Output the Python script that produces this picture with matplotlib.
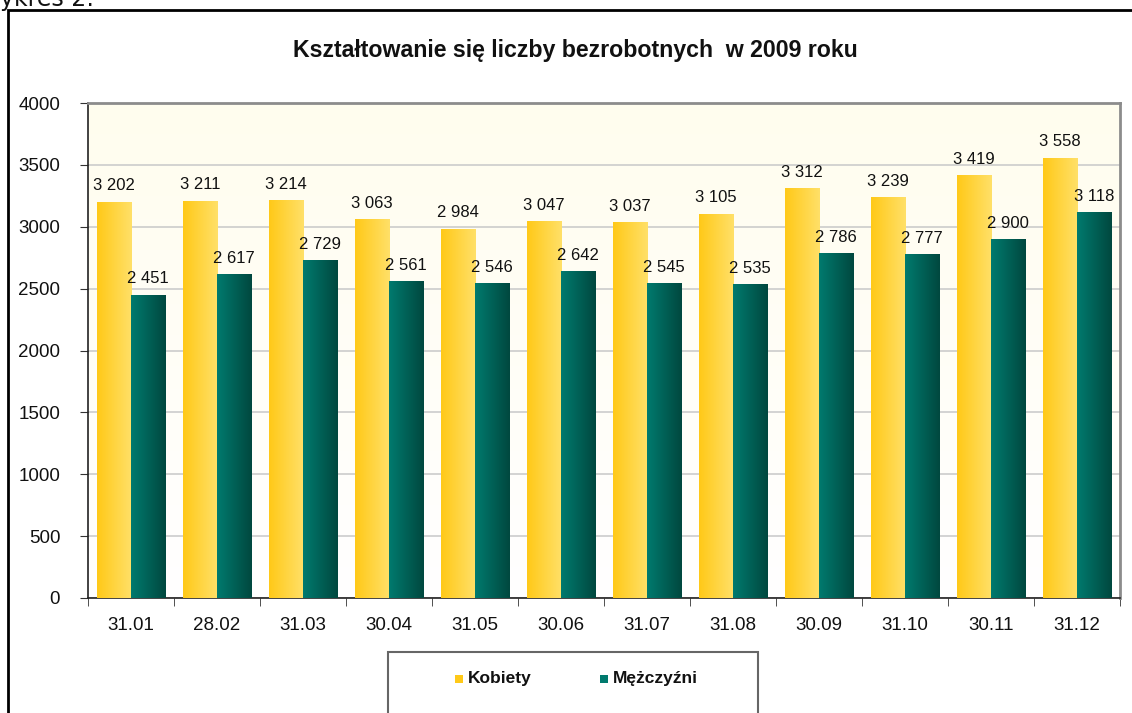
import matplotlib

matplotlib.use("Agg")
import matplotlib.pyplot as plt
import numpy as np
from matplotlib.colors import LinearSegmentedColormap
from matplotlib.patches import Rectangle

plt.rcParams["font.family"] = ["Liberation Sans", "DejaVu Sans"]

# --- Data -------------------------------------------------------------------
DATES = ["31.01", "28.02", "31.03", "30.04", "31.05", "30.06",
         "31.07", "31.08", "30.09", "31.10", "30.11", "31.12"]
KOBIETY = [3202, 3211, 3214, 3063, 2984, 3047, 3037, 3105, 3312, 3239, 3419, 3558]
MEZCZYZNI = [2451, 2617, 2729, 2561, 2546, 2642, 2545, 2535, 2786, 2777, 2900, 3118]
SERIES = ["Kobiety", "Mężczyźni"]
TITLE = "Kształtowanie się liczby bezrobotnych  w 2009 roku"

YELLOW = ("#ffc918", "#ffe068")
TEAL = ("#007a6e", "#00483f")
INK = "#111111"
GRID = "#c8c8c8"
BORDER = "#8c8c8c"


def fmt(v):
    return f"{v:,}".replace(",", " ")


def gradient_bars(ax, bars, colors):
    cmap = LinearSegmentedColormap.from_list("g", colors)
    grad = np.linspace(0, 1, 64).reshape(1, -1)
    for bar in bars:
        x0, y0 = bar.get_x(), bar.get_y()
        w, h = bar.get_width(), bar.get_height()
        im = ax.imshow(grad, cmap=cmap, aspect="auto", extent=(x0, x0 + w, y0, y0 + h),
                       zorder=3, interpolation="bilinear")
        im.set_clip_path(bar)


fig = plt.figure(figsize=(11.32, 7.13), dpi=100)
ax = fig.add_axes([88 / 1132, 1 - 598 / 713, (1120 - 88) / 1132, (598 - 103) / 713])

x = np.arange(len(DATES))
w = 0.4
b1 = ax.bar(x - w / 2, KOBIETY, width=w, color="none", edgecolor="none", zorder=3)
b2 = ax.bar(x + w / 2, MEZCZYZNI, width=w, color="none", edgecolor="none", zorder=3)
gradient_bars(ax, b1, YELLOW)
gradient_bars(ax, b2, TEAL)

for xi, v in zip(x, KOBIETY):
    ax.annotate(fmt(v), (xi - w / 2, v), textcoords="offset points", xytext=(0, 6),
                ha="center", va="bottom", fontsize=12, color=INK)
for xi, v in zip(x, MEZCZYZNI):
    ax.annotate(fmt(v), (xi + w / 2, v), textcoords="offset points", xytext=(0, 6),
                ha="center", va="bottom", fontsize=12, color=INK)

ax.set_xlim(-0.5, len(DATES) - 0.5)
ax.set_ylim(0, 4000)
ax.set_yticks(np.arange(0, 4001, 500))
ax.set_xticks(x, DATES)
ax.set_xticks(np.arange(-0.5, len(DATES), 1), minor=True)
ax.tick_params(axis="x", which="major", length=0, pad=14, labelsize=13.5, colors=INK)
ax.tick_params(axis="x", which="minor", length=6, direction="out", color="#333333")
ax.tick_params(axis="y", length=6, direction="out", pad=14, labelsize=13.5,
               colors=INK, color="#333333")
ax.grid(axis="y", color=GRID, linewidth=1.1, zorder=1)

# pale cream background fading to white
bg = np.linspace(0, 1, 64).reshape(-1, 1)
bg_cmap = LinearSegmentedColormap.from_list("bg", ["#ffffff", "#fffdee"])
ax.imshow(bg, cmap=bg_cmap, aspect="auto", extent=(0, 1, 0, 1),
          transform=ax.transAxes, origin="lower", zorder=0)
ax.set_xlim(-0.5, len(DATES) - 0.5)
ax.set_ylim(0, 4000)

for side in ("top", "right"):
    ax.spines[side].set_color(BORDER)
    ax.spines[side].set_linewidth(2)
for side in ("left", "bottom"):
    ax.spines[side].set_color("#222222")
    ax.spines[side].set_linewidth(1.2)

fig.text(575 / 1132, 1 - 50 / 713, TITLE, ha="center", va="center",
         fontsize=16.7, fontweight="bold", color=INK)

# outer frame, clipped by the figure edges
fig.patches.append(Rectangle((8 / 1132, -0.1), 1.2, 1 - 10 / 713 + 0.1,
                             transform=fig.transFigure, fill=False,
                             edgecolor="black", linewidth=2))
# caption above the frame, partly cut off by the top/left edges as in the source
fig.text(-23 / 1132, 1 - 6 / 713, "Wykres 2:", ha="left", va="baseline",
         fontsize=17, family=["DejaVu Sans"], color=INK)

# legend box, cut by the bottom edge
fig.patches.append(Rectangle((388 / 1132, -0.1), (758 - 388) / 1132, 0.1 + 1 - 652 / 713,
                             transform=fig.transFigure, facecolor="white",
                             edgecolor="#666666", linewidth=1.5))
for sx, colors, label in ((455, YELLOW, SERIES[0]), (600, TEAL, SERIES[1])):
    fig.patches.append(Rectangle((sx / 1132, 1 - 683 / 713), 8 / 1132, 8 / 713,
                                 transform=fig.transFigure, facecolor=colors[0],
                                 edgecolor="none"))
    fig.text((sx + 13) / 1132, 1 - 679 / 713, label, ha="left", va="center",
             fontsize=12.5, fontweight="bold", color=INK)

fig.savefig("out.png", dpi=100, facecolor="white")
